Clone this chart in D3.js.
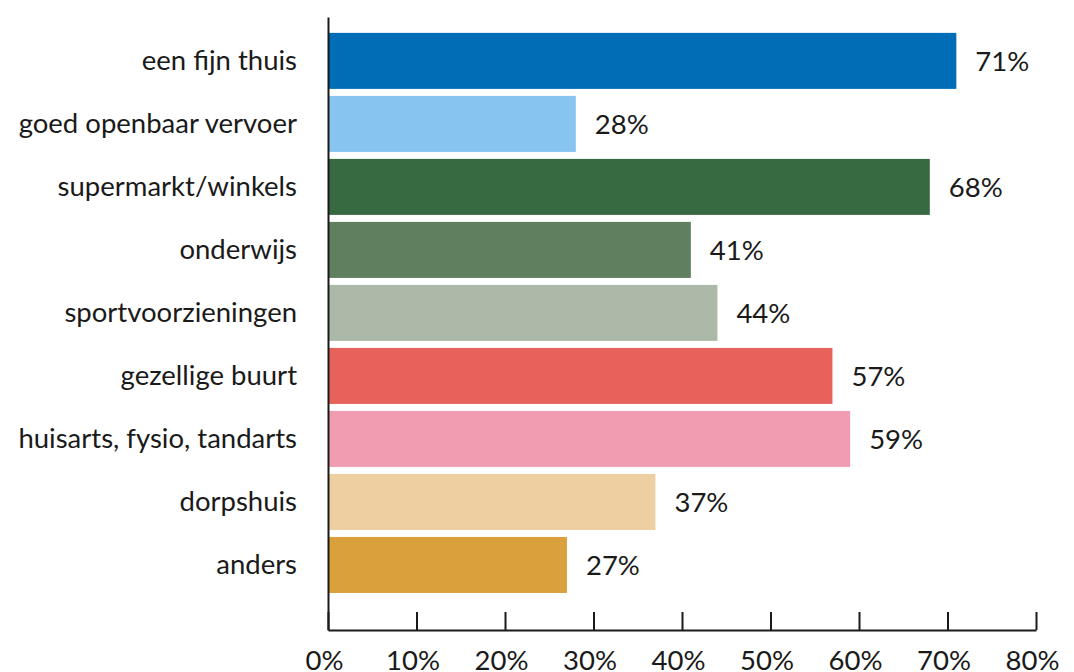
<!DOCTYPE html>
<html>
<head>
<meta charset="utf-8">
<script src="https://cdn.jsdelivr.net/npm/d3@7"></script>
<style>
  body { margin: 0; background: #fff; }
  svg text { font-family: Lato, "Noto Sans", sans-serif; fill: #1a1a1a; }
</style>
</head>
<body>
<div id="chart"></div>
<script>
var categories = ["een fijn thuis", "goed openbaar vervoer", "supermarkt/winkels", "onderwijs", "sportvoorzieningen", "gezellige buurt", "huisarts, fysio, tandarts", "dorpshuis", "anders"];
var values = [71, 28, 68, 41, 44, 57, 59, 37, 27];
var colors = ["#006db6", "#87c4ef", "#386a42", "#5f7f5f", "#adb9a8", "#e8625c", "#f09db2", "#edcfa1", "#d9a03c"];
var xTicks = [0, 10, 20, 30, 40, 50, 60, 70, 80];

const w = 1074;
const h = 672;
const fontSize = 27.5;

const svg = d3.select("#chart")
    .append("svg")
    .attr("width", w)
    .attr("height", h);

const xScale = d3.scaleLinear()
    .domain([0, 80])
    .range([328, 1036]);

const yScale = d3.scaleBand()
    .domain(categories)
    .range([17, 630])
    .paddingInner(0.111)
    .paddingOuter(0.42)
    .align(0.3);

// bars
svg.selectAll("rect.bar")
    .data(values)
    .enter()
    .append("rect")
    .attr("class", "bar")
    .attr("x", xScale(0))
    .attr("y", (d, i) => yScale(categories[i]))
    .attr("width", (d) => xScale(d) - xScale(0))
    .attr("height", yScale.bandwidth())
    .attr("fill", (d, i) => colors[i]);

// value labels
svg.selectAll("text.value")
    .data(values)
    .enter()
    .append("text")
    .attr("class", "value")
    .attr("x", (d) => xScale(d) + 19)
    .attr("y", (d, i) => yScale(categories[i]) + yScale.bandwidth() / 2)
    .attr("dy", "0.35em")
    .style("font-size", fontSize + "px")
    .text((d) => d + "%");

// y axis
const yAxis = d3.axisLeft(yScale).tickSize(0).tickPadding(31);
const gy = svg.append("g")
    .attr("transform", "translate(" + xScale(0) + ",0)")
    .call(yAxis);
gy.select(".domain").attr("stroke", "#1a1a1a").attr("stroke-width", 2);
gy.selectAll("text").style("font-size", fontSize + "px").attr("fill", "#1a1a1a");

// x axis
const xAxis = d3.axisBottom(xScale)
    .tickValues(xTicks)
    .tickFormat((d) => d + "%")
    .tickSize(-18)
    .tickSizeOuter(0)
    .tickPadding(20);
const gx = svg.append("g")
    .attr("transform", "translate(0," + yScale.range()[1] + ")")
    .call(xAxis);
gx.select(".domain").attr("stroke", "#1a1a1a").attr("stroke-width", 2);
gx.selectAll(".tick line").attr("stroke", "#1a1a1a").attr("stroke-width", 2);
gx.selectAll("text").style("font-size", fontSize + "px").attr("fill", "#1a1a1a").attr("dx", -4);
</script>
</body>
</html>
